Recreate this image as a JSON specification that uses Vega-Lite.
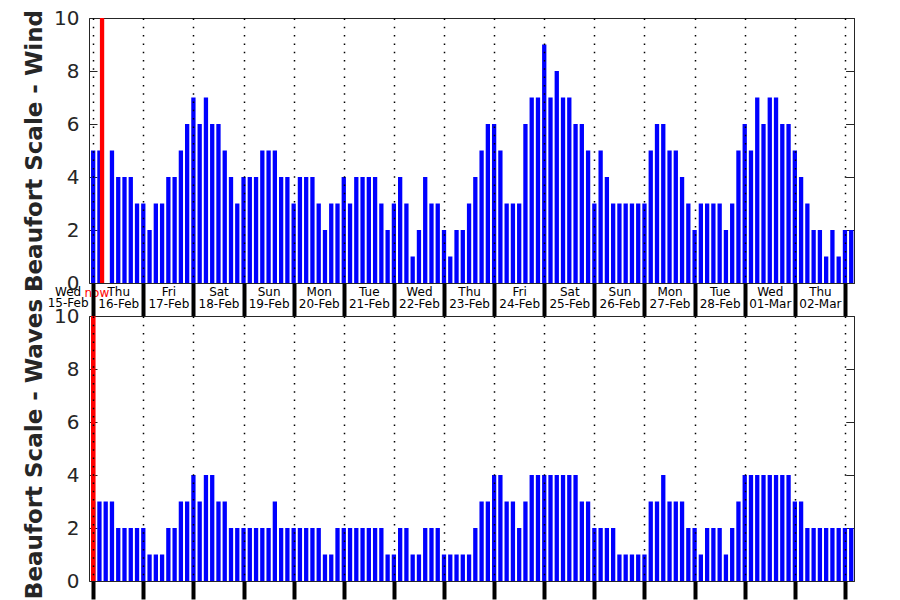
{
  "$schema": "https://vega.github.io/schema/vega-lite/v6.json",
  "background": "white",
  "padding": {"left": 23, "top": 7, "right": 5, "bottom": 0},
  "config": {
    "font": "DejaVu Sans",
    "view": {"stroke": "#262626", "strokeWidth": 1}
  },
  "data": {"values": [
    {"t":"2023-02-16T00:00Z","wind":5,"waves":3},{"t":"2023-02-16T03:00Z","wind":5,"waves":3},{"t":"2023-02-16T06:00Z","wind":null,"waves":3},{"t":"2023-02-16T09:00Z","wind":5,"waves":3},
    {"t":"2023-02-16T12:00Z","wind":4,"waves":2},{"t":"2023-02-16T15:00Z","wind":4,"waves":2},{"t":"2023-02-16T18:00Z","wind":4,"waves":2},{"t":"2023-02-16T21:00Z","wind":3,"waves":2},
    {"t":"2023-02-17T00:00Z","wind":3,"waves":2},{"t":"2023-02-17T03:00Z","wind":2,"waves":1},{"t":"2023-02-17T06:00Z","wind":3,"waves":1},{"t":"2023-02-17T09:00Z","wind":3,"waves":1},
    {"t":"2023-02-17T12:00Z","wind":4,"waves":2},{"t":"2023-02-17T15:00Z","wind":4,"waves":2},{"t":"2023-02-17T18:00Z","wind":5,"waves":3},{"t":"2023-02-17T21:00Z","wind":6,"waves":3},
    {"t":"2023-02-18T00:00Z","wind":7,"waves":4},{"t":"2023-02-18T03:00Z","wind":6,"waves":3},{"t":"2023-02-18T06:00Z","wind":7,"waves":4},{"t":"2023-02-18T09:00Z","wind":6,"waves":4},
    {"t":"2023-02-18T12:00Z","wind":6,"waves":3},{"t":"2023-02-18T15:00Z","wind":5,"waves":3},{"t":"2023-02-18T18:00Z","wind":4,"waves":2},{"t":"2023-02-18T21:00Z","wind":3,"waves":2},
    {"t":"2023-02-19T00:00Z","wind":4,"waves":2},{"t":"2023-02-19T03:00Z","wind":4,"waves":2},{"t":"2023-02-19T06:00Z","wind":4,"waves":2},{"t":"2023-02-19T09:00Z","wind":5,"waves":2},
    {"t":"2023-02-19T12:00Z","wind":5,"waves":2},{"t":"2023-02-19T15:00Z","wind":5,"waves":3},{"t":"2023-02-19T18:00Z","wind":4,"waves":2},{"t":"2023-02-19T21:00Z","wind":4,"waves":2},
    {"t":"2023-02-20T00:00Z","wind":3,"waves":2},{"t":"2023-02-20T03:00Z","wind":4,"waves":2},{"t":"2023-02-20T06:00Z","wind":4,"waves":2},{"t":"2023-02-20T09:00Z","wind":4,"waves":2},
    {"t":"2023-02-20T12:00Z","wind":3,"waves":2},{"t":"2023-02-20T15:00Z","wind":2,"waves":1},{"t":"2023-02-20T18:00Z","wind":3,"waves":1},{"t":"2023-02-20T21:00Z","wind":3,"waves":2},
    {"t":"2023-02-21T00:00Z","wind":4,"waves":2},{"t":"2023-02-21T03:00Z","wind":3,"waves":2},{"t":"2023-02-21T06:00Z","wind":4,"waves":2},{"t":"2023-02-21T09:00Z","wind":4,"waves":2},
    {"t":"2023-02-21T12:00Z","wind":4,"waves":2},{"t":"2023-02-21T15:00Z","wind":4,"waves":2},{"t":"2023-02-21T18:00Z","wind":3,"waves":2},{"t":"2023-02-21T21:00Z","wind":2,"waves":1},
    {"t":"2023-02-22T00:00Z","wind":3,"waves":1},{"t":"2023-02-22T03:00Z","wind":4,"waves":2},{"t":"2023-02-22T06:00Z","wind":3,"waves":2},{"t":"2023-02-22T09:00Z","wind":1,"waves":1},
    {"t":"2023-02-22T12:00Z","wind":2,"waves":1},{"t":"2023-02-22T15:00Z","wind":4,"waves":2},{"t":"2023-02-22T18:00Z","wind":3,"waves":2},{"t":"2023-02-22T21:00Z","wind":3,"waves":2},
    {"t":"2023-02-23T00:00Z","wind":2,"waves":1},{"t":"2023-02-23T03:00Z","wind":1,"waves":1},{"t":"2023-02-23T06:00Z","wind":2,"waves":1},{"t":"2023-02-23T09:00Z","wind":2,"waves":1},
    {"t":"2023-02-23T12:00Z","wind":3,"waves":1},{"t":"2023-02-23T15:00Z","wind":4,"waves":2},{"t":"2023-02-23T18:00Z","wind":5,"waves":3},{"t":"2023-02-23T21:00Z","wind":6,"waves":3},
    {"t":"2023-02-24T00:00Z","wind":6,"waves":4},{"t":"2023-02-24T03:00Z","wind":5,"waves":4},{"t":"2023-02-24T06:00Z","wind":3,"waves":3},{"t":"2023-02-24T09:00Z","wind":3,"waves":3},
    {"t":"2023-02-24T12:00Z","wind":3,"waves":2},{"t":"2023-02-24T15:00Z","wind":6,"waves":3},{"t":"2023-02-24T18:00Z","wind":7,"waves":4},{"t":"2023-02-24T21:00Z","wind":7,"waves":4},
    {"t":"2023-02-25T00:00Z","wind":9,"waves":4},{"t":"2023-02-25T03:00Z","wind":7,"waves":4},{"t":"2023-02-25T06:00Z","wind":8,"waves":4},{"t":"2023-02-25T09:00Z","wind":7,"waves":4},
    {"t":"2023-02-25T12:00Z","wind":7,"waves":4},{"t":"2023-02-25T15:00Z","wind":6,"waves":4},{"t":"2023-02-25T18:00Z","wind":6,"waves":3},{"t":"2023-02-25T21:00Z","wind":5,"waves":3},
    {"t":"2023-02-26T00:00Z","wind":3,"waves":2},{"t":"2023-02-26T03:00Z","wind":5,"waves":2},{"t":"2023-02-26T06:00Z","wind":4,"waves":2},{"t":"2023-02-26T09:00Z","wind":3,"waves":2},
    {"t":"2023-02-26T12:00Z","wind":3,"waves":1},{"t":"2023-02-26T15:00Z","wind":3,"waves":1},{"t":"2023-02-26T18:00Z","wind":3,"waves":1},{"t":"2023-02-26T21:00Z","wind":3,"waves":1},
    {"t":"2023-02-27T00:00Z","wind":3,"waves":1},{"t":"2023-02-27T03:00Z","wind":5,"waves":3},{"t":"2023-02-27T06:00Z","wind":6,"waves":3},{"t":"2023-02-27T09:00Z","wind":6,"waves":4},
    {"t":"2023-02-27T12:00Z","wind":5,"waves":3},{"t":"2023-02-27T15:00Z","wind":5,"waves":3},{"t":"2023-02-27T18:00Z","wind":4,"waves":3},{"t":"2023-02-27T21:00Z","wind":3,"waves":2},
    {"t":"2023-02-28T00:00Z","wind":2,"waves":2},{"t":"2023-02-28T03:00Z","wind":3,"waves":1},{"t":"2023-02-28T06:00Z","wind":3,"waves":2},{"t":"2023-02-28T09:00Z","wind":3,"waves":2},
    {"t":"2023-02-28T12:00Z","wind":3,"waves":2},{"t":"2023-02-28T15:00Z","wind":2,"waves":1},{"t":"2023-02-28T18:00Z","wind":3,"waves":2},{"t":"2023-02-28T21:00Z","wind":5,"waves":3},
    {"t":"2023-03-01T00:00Z","wind":6,"waves":4},{"t":"2023-03-01T03:00Z","wind":5,"waves":4},{"t":"2023-03-01T06:00Z","wind":7,"waves":4},{"t":"2023-03-01T09:00Z","wind":6,"waves":4},
    {"t":"2023-03-01T12:00Z","wind":7,"waves":4},{"t":"2023-03-01T15:00Z","wind":7,"waves":4},{"t":"2023-03-01T18:00Z","wind":6,"waves":4},{"t":"2023-03-01T21:00Z","wind":6,"waves":4},
    {"t":"2023-03-02T00:00Z","wind":5,"waves":3},{"t":"2023-03-02T03:00Z","wind":4,"waves":3},{"t":"2023-03-02T06:00Z","wind":3,"waves":2},{"t":"2023-03-02T09:00Z","wind":2,"waves":2},
    {"t":"2023-03-02T12:00Z","wind":2,"waves":2},{"t":"2023-03-02T15:00Z","wind":1,"waves":2},{"t":"2023-03-02T18:00Z","wind":2,"waves":2},{"t":"2023-03-02T21:00Z","wind":1,"waves":2},
    {"t":"2023-03-03T00:00Z","wind":2,"waves":2},{"t":"2023-03-03T03:00Z","wind":2,"waves":2}
  ]},
  "spacing": 33,
  "bounds": "flush",
  "vconcat": [
    {
      "width": 765,
      "height": 265,
      "resolve": {"axis": {"y": "independent"}},
      "layer": [
        {
          "mark": {"type": "bar", "color": "#0000ff", "size": 4.3},
          "encoding": {
            "x": {
              "field": "t", "type": "temporal",
              "scale": {"type": "utc", "nice": false, "padding": 0, "domain": [{"year": 2023, "month": 2, "date": 15, "hours": 22, "utc": true}, {"year": 2023, "month": 3, "date": 3, "hours": 4, "minutes": 20, "utc": true}]},
              "axis": {
                "title": null, "zindex": 1, "domain": false, "labels": false,
                "values": [
                  {"year":2023,"month":2,"date":16,"utc":true},{"year":2023,"month":2,"date":17,"utc":true},
                  {"year":2023,"month":2,"date":18,"utc":true},{"year":2023,"month":2,"date":19,"utc":true},
                  {"year":2023,"month":2,"date":20,"utc":true},{"year":2023,"month":2,"date":21,"utc":true},
                  {"year":2023,"month":2,"date":22,"utc":true},{"year":2023,"month":2,"date":23,"utc":true},
                  {"year":2023,"month":2,"date":24,"utc":true},{"year":2023,"month":2,"date":25,"utc":true},
                  {"year":2023,"month":2,"date":26,"utc":true},{"year":2023,"month":2,"date":27,"utc":true},
                  {"year":2023,"month":2,"date":28,"utc":true},{"year":2023,"month":3,"date":1,"utc":true},
                  {"year":2023,"month":3,"date":2,"utc":true},{"year":2023,"month":3,"date":3,"utc":true}
                ],
                "tickSize": 33, "tickWidth": 4, "tickColor": "#000000",
                "grid": true, "gridColor": "#000000", "gridWidth": 1.5, "gridDash": [1.5, 6.8]
              }
            },
            "y": {
              "field": "wind", "type": "quantitative",
              "scale": {"domain": [0, 10], "nice": false},
              "axis": {
                "orient": "left",
                "values": [0, 2, 4, 6, 8, 10], "domain": false, "grid": false,
                "tickSize": -8, "tickColor": "#262626", "labelPadding": 18,
                "labelFontSize": 20, "labelColor": "#262626",
                "title": "Beaufort Scale - Wind", "titleFontSize": 23, "titleFontWeight": "bold",
                "titleColor": "#262626", "titlePadding": 7
              }
            }
          }
        },
        {
          "data": {"values": [{"t": "2023-02-16T04:15Z"}]},
          "mark": {"type": "rule", "color": "#ff0000", "strokeWidth": 4.3},
          "encoding": {
            "x": {"field": "t", "type": "temporal"},
            "y": {"datum": 0, "axis": {"orient": "right", "values": [0, 2, 4, 6, 8, 10], "labels": false, "domain": false, "grid": false, "tickSize": -8, "tickColor": "#262626", "title": null}},
            "y2": {"datum": 10}
          }
        },
        {
          "data": {"values": [{"t": "2023-02-15T12:00Z", "label": "Wed"}]},
          "mark": {"type": "text", "color": "#000000", "fontSize": 12, "baseline": "middle", "dy": 9},
          "encoding": {
            "x": {"field": "t", "type": "temporal"},
            "y": {"datum": 0, "axis": {"orient": "right", "values": [0, 2, 4, 6, 8, 10], "labels": false, "domain": false, "grid": false, "tickSize": -8, "tickColor": "#262626", "title": null}},
            "text": {"field": "label"}
          }
        },
        {
          "data": {"values": [{"t": "2023-02-15T12:00Z", "label": "15-Feb"}]},
          "mark": {"type": "text", "color": "#000000", "fontSize": 12, "baseline": "middle", "dy": 20},
          "encoding": {
            "x": {"field": "t", "type": "temporal"},
            "y": {"datum": 0, "axis": {"orient": "right", "values": [0, 2, 4, 6, 8, 10], "labels": false, "domain": false, "grid": false, "tickSize": -8, "tickColor": "#262626", "title": null}},
            "text": {"field": "label"}
          }
        },
        {
          "data": {"values": [{"t": "2023-02-16T01:45Z", "label": "now"}]},
          "mark": {"type": "text", "color": "#ff0000", "fontSize": 12, "baseline": "middle", "dy": 10},
          "encoding": {
            "x": {"field": "t", "type": "temporal"},
            "y": {"datum": 0, "axis": {"orient": "right", "values": [0, 2, 4, 6, 8, 10], "labels": false, "domain": false, "grid": false, "tickSize": -8, "tickColor": "#262626", "title": null}},
            "text": {"field": "label"}
          }
        }
      ]
    },
    {
      "width": 765,
      "height": 265,
      "resolve": {"axis": {"x": "independent", "y": "independent"}},
      "layer": [
        {
          "mark": {"type": "bar", "color": "#0000ff", "size": 4.3},
          "encoding": {
            "x": {
              "field": "t", "type": "temporal",
              "scale": {"type": "utc", "nice": false, "padding": 0, "domain": [{"year": 2023, "month": 2, "date": 15, "hours": 22, "utc": true}, {"year": 2023, "month": 3, "date": 3, "hours": 4, "minutes": 20, "utc": true}]},
              "axis": {
                "orient": "bottom",
                "title": null, "zindex": 1, "domain": false, "labels": false,
                "values": [
                  {"year":2023,"month":2,"date":16,"utc":true},{"year":2023,"month":2,"date":17,"utc":true},
                  {"year":2023,"month":2,"date":18,"utc":true},{"year":2023,"month":2,"date":19,"utc":true},
                  {"year":2023,"month":2,"date":20,"utc":true},{"year":2023,"month":2,"date":21,"utc":true},
                  {"year":2023,"month":2,"date":22,"utc":true},{"year":2023,"month":2,"date":23,"utc":true},
                  {"year":2023,"month":2,"date":24,"utc":true},{"year":2023,"month":2,"date":25,"utc":true},
                  {"year":2023,"month":2,"date":26,"utc":true},{"year":2023,"month":2,"date":27,"utc":true},
                  {"year":2023,"month":2,"date":28,"utc":true},{"year":2023,"month":3,"date":1,"utc":true},
                  {"year":2023,"month":3,"date":2,"utc":true},{"year":2023,"month":3,"date":3,"utc":true}
                ],
                "tickSize": 18, "tickWidth": 4, "tickColor": "#000000",
                "grid": true, "gridColor": "#000000", "gridWidth": 1.5, "gridDash": [1.5, 6.8]
              }
            },
            "y": {
              "field": "waves", "type": "quantitative",
              "scale": {"domain": [0, 10], "nice": false},
              "axis": {
                "orient": "left",
                "values": [0, 2, 4, 6, 8, 10], "domain": false, "grid": false,
                "tickSize": -8, "tickColor": "#262626", "labelPadding": 18,
                "labelFontSize": 20, "labelColor": "#262626",
                "title": "Beaufort Scale - Waves", "titleFontSize": 23, "titleFontWeight": "bold",
                "titleColor": "#262626", "titlePadding": 7
              }
            }
          }
        },
        {
          "data": {"values": [{"t": "2023-02-16T00:00Z"}]},
          "mark": {"type": "rule", "color": "#ff0000", "strokeWidth": 4.3},
          "encoding": {
            "x": {
              "field": "t", "type": "temporal",
              "axis": {
                "orient": "top", "title": null, "domain": false, "ticks": false, "grid": false,
                "values": [
                  {"year":2023,"month":2,"date":16,"hours":12,"utc":true},
                  {"year":2023,"month":2,"date":17,"hours":12,"utc":true},{"year":2023,"month":2,"date":18,"hours":12,"utc":true},
                  {"year":2023,"month":2,"date":19,"hours":12,"utc":true},{"year":2023,"month":2,"date":20,"hours":12,"utc":true},
                  {"year":2023,"month":2,"date":21,"hours":12,"utc":true},{"year":2023,"month":2,"date":22,"hours":12,"utc":true},
                  {"year":2023,"month":2,"date":23,"hours":12,"utc":true},{"year":2023,"month":2,"date":24,"hours":12,"utc":true},
                  {"year":2023,"month":2,"date":25,"hours":12,"utc":true},{"year":2023,"month":2,"date":26,"hours":12,"utc":true},
                  {"year":2023,"month":2,"date":27,"hours":12,"utc":true},{"year":2023,"month":2,"date":28,"hours":12,"utc":true},
                  {"year":2023,"month":3,"date":1,"hours":12,"utc":true},{"year":2023,"month":3,"date":2,"hours":12,"utc":true}
                ],
                "labelExpr": "utcFormat(datum.value, '%d-%b')",
                "labelFontSize": 12, "labelColor": "#000000", "labelPadding": 6,
                "labelOverlap": false, "labelFlush": false, "labelBound": false
              }
            },
            "y": {"datum": 0, "axis": {"orient": "right", "values": [0, 2, 4, 6, 8, 10], "labels": false, "domain": false, "grid": false, "tickSize": -8, "tickColor": "#262626", "title": null}},
            "y2": {"datum": 10}
          }
        },
        {
          "data": {"values": [{"t": "2023-02-16T00:00Z"}]},
          "mark": {"type": "rule", "color": "#ff0000", "strokeWidth": 4.3},
          "encoding": {
            "x": {
              "field": "t", "type": "temporal",
              "axis": {
                "orient": "top", "title": null, "domain": false, "ticks": false, "grid": false,
                "values": [
                  {"year":2023,"month":2,"date":16,"hours":12,"utc":true},
                  {"year":2023,"month":2,"date":17,"hours":12,"utc":true},{"year":2023,"month":2,"date":18,"hours":12,"utc":true},
                  {"year":2023,"month":2,"date":19,"hours":12,"utc":true},{"year":2023,"month":2,"date":20,"hours":12,"utc":true},
                  {"year":2023,"month":2,"date":21,"hours":12,"utc":true},{"year":2023,"month":2,"date":22,"hours":12,"utc":true},
                  {"year":2023,"month":2,"date":23,"hours":12,"utc":true},{"year":2023,"month":2,"date":24,"hours":12,"utc":true},
                  {"year":2023,"month":2,"date":25,"hours":12,"utc":true},{"year":2023,"month":2,"date":26,"hours":12,"utc":true},
                  {"year":2023,"month":2,"date":27,"hours":12,"utc":true},{"year":2023,"month":2,"date":28,"hours":12,"utc":true},
                  {"year":2023,"month":3,"date":1,"hours":12,"utc":true},{"year":2023,"month":3,"date":2,"hours":12,"utc":true}
                ],
                "labelExpr": "utcFormat(datum.value, '%a')",
                "labelFontSize": 12, "labelColor": "#000000", "labelPadding": 18,
                "labelOverlap": false, "labelFlush": false, "labelBound": false
              }
            },
            "y": {"datum": 0, "axis": {"orient": "right", "values": [0, 2, 4, 6, 8, 10], "labels": false, "domain": false, "grid": false, "tickSize": -8, "tickColor": "#262626", "title": null}},
            "y2": {"datum": 10}
          }
        }
      ]
    }
  ]
}
